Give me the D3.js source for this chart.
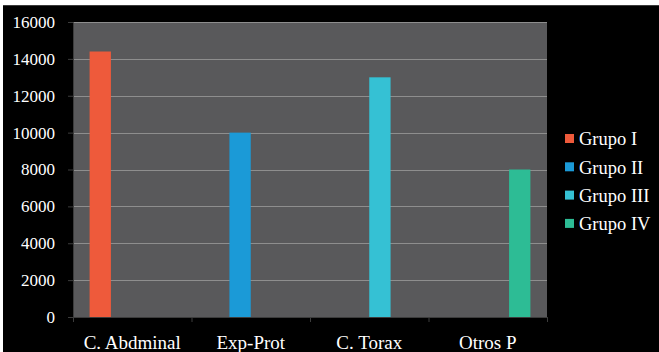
<!DOCTYPE html>
<html>
<head>
<meta charset="utf-8">
<script src="https://cdn.jsdelivr.net/npm/d3@7"></script>
<style>
  html, body { margin: 0; padding: 0; background: #ffffff; }
  svg { display: block; }
  text { font-family: "Liberation Serif", "DejaVu Serif", serif; fill: #ffffff; }
</style>
</head>
<body>
<svg id="chart" width="659" height="352"></svg>
<script>
// Chart data
const categories = ["C. Abdminal", "Exp-Prot", "C. Torax", "Otros P"];
const seriesNames = ["Grupo I", "Grupo II", "Grupo III", "Grupo IV"];
const seriesColors = ["#EE5A3B", "#1B9AD7", "#35C1D4", "#2DBC95"];
// One row per series, one value per category
const grupoI   = [14400, 0, 0, 0];
const grupoII  = [0, 10000, 0, 0];
const grupoIII = [0, 0, 13000, 0];
const grupoIV  = [0, 0, 0, 8000];
const yTicks = [0, 2000, 4000, 6000, 8000, 10000, 12000, 14000, 16000];

const seriesValues = [grupoI, grupoII, grupoIII, grupoIV];

const svg = d3.select("#chart");
const W = 659, H = 352;
const serif = "'Liberation Serif', 'DejaVu Serif', serif";

// dark frame
svg.append("rect").attr("x", 3).attr("y", 5).attr("width", W - 3).attr("height", H - 5)
  .attr("fill", "#000000");
svg.append("line").attr("x1", 3).attr("x2", W).attr("y1", 5.5).attr("y2", 5.5)
  .attr("stroke", "#3a3a3a").attr("stroke-width", 1);

const plot = { left: 73, right: 547, top: 22, bottom: 317 };

const x0 = d3.scaleBand().domain(categories).range([plot.left, plot.right]).padding(0);
const gap = x0.bandwidth() * 0.14;
const x1 = d3.scaleBand().domain(seriesNames).range([gap, x0.bandwidth() - gap]).padding(0);
const y = d3.scaleLinear().domain([0, 16000]).range([plot.bottom, plot.top]);

// plot background
svg.append("rect")
  .attr("x", plot.left).attr("y", plot.top)
  .attr("width", plot.right - plot.left).attr("height", plot.bottom - plot.top)
  .attr("fill", "#59595B");

// gridlines
svg.append("g").selectAll("line").data(yTicks.filter(t => t > 0)).join("line")
  .attr("x1", plot.left).attr("x2", plot.right)
  .attr("y1", d => Math.round(y(d)) + 0.5).attr("y2", d => Math.round(y(d)) + 0.5)
  .attr("stroke", "#8E8E8E").attr("stroke-width", 1);

// bars
const rows = [];
seriesNames.forEach((s, si) => {
  categories.forEach((c, ci) => {
    rows.push({ series: s, cat: c, value: seriesValues[si][ci], color: seriesColors[si] });
  });
});
svg.append("g").selectAll("rect").data(rows.filter(d => d.value > 0)).join("rect")
  .attr("x", d => x0(d.cat) + x1(d.series))
  .attr("width", x1.bandwidth())
  .attr("y", d => y(d.value))
  .attr("height", d => y(0) - y(d.value))
  .attr("fill", d => d.color);

// y axis
const yAxis = d3.axisLeft(y).tickValues(yTicks).tickSize(5).tickPadding(13).tickFormat(d3.format("d"));
const gy = svg.append("g").attr("transform", `translate(${plot.left},0)`).call(yAxis)
  .attr("font-family", serif).attr("font-size", 17);
gy.select(".domain").attr("stroke", "#3c3c3c");
gy.selectAll(".tick line").attr("stroke", "#3c3c3c");
gy.selectAll(".tick text").attr("fill", "#ffffff")
  .style("font-family", serif).style("font-size", "17px");

// x axis
const xAxis = d3.axisBottom(x0).tickSize(0).tickPadding(19);
const gx = svg.append("g").attr("transform", `translate(0,${plot.bottom})`).call(xAxis)
  .attr("font-family", serif).attr("font-size", 19);
gx.select(".domain").attr("stroke", "#3c3c3c");
gx.selectAll(".tick text").attr("fill", "#ffffff")
  .style("font-family", serif).style("font-size", "19px");
// boundary ticks between categories
const bounds = categories.map(c => x0(c)).concat([plot.right]);
svg.append("g").selectAll("line").data(bounds).join("line")
  .attr("x1", d => d + 0.5).attr("x2", d => d + 0.5)
  .attr("y1", plot.bottom).attr("y2", plot.bottom + 5)
  .attr("stroke", "#3c3c3c");

// legend
const legend = svg.append("g").attr("transform", "translate(565,139)");
const li = legend.selectAll("g").data(seriesNames).join("g")
  .attr("transform", (d, i) => `translate(0,${i * 28.3})`);
li.append("rect").attr("x", 0).attr("y", -5).attr("width", 9).attr("height", 9)
  .attr("fill", (d, i) => seriesColors[i]);
li.append("text").attr("x", 14).attr("y", 0).attr("dy", "0.35em")
  .style("font-family", serif).style("font-size", "18.5px").text(d => d);
</script>
</body>
</html>
